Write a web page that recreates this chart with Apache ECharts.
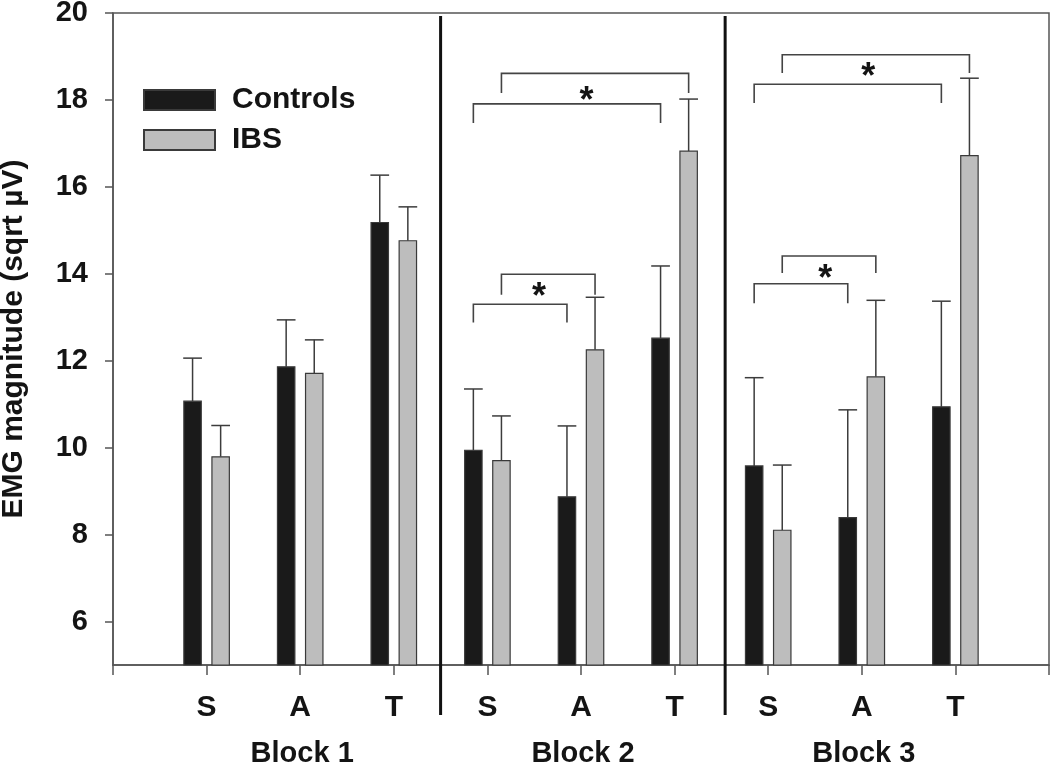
<!DOCTYPE html>
<html><head><meta charset="utf-8">
<script src="https://cdn.jsdelivr.net/npm/echarts@6/dist/echarts.min.js"></script>
<style>html,body{margin:0;padding:0;background:#fff}#c{width:1050px;height:766px}</style>
</head><body><div id="c"></div>
<script>
// ---- data ----
const categories = ['S','A','T','S','A','T','S','A','T'];
const blockLabels = ['Block 1','Block 2','Block 3'];
const blockCenters = [2, 5, 8];
const controls   = [11.07, 11.86, 15.18, 9.94, 8.87, 12.52, 9.58, 8.39, 10.94];
const controlsSE = [0.99, 1.08, 1.09, 1.41, 1.63, 1.66, 2.03, 2.48, 2.43];
const ibs        = [9.79, 11.71, 14.76, 9.70, 12.25, 16.82, 8.10, 11.63, 16.72];
const ibsSE      = [0.72, 0.77, 0.78, 1.03, 1.21, 1.20, 1.50, 1.76, 1.78];
const yTicks = [6, 8, 10, 12, 14, 16, 18, 20];
// significance brackets: [startCategory, endCategory, group (0 = Controls, 1 = IBS), bracketTop, legBottom]
const brackets = [
  [4, 5, 0, 13.30, 12.88], [4, 5, 1, 13.99, 13.52],
  [4, 6, 0, 17.91, 17.47], [4, 6, 1, 18.61, 18.16],
  [7, 8, 0, 13.77, 13.32], [7, 8, 1, 14.41, 14.02],
  [7, 9, 0, 18.36, 17.93], [7, 9, 1, 19.04, 18.62]
];
const stars = [[4.55, 13.64], [5.06, 18.16], [7.61, 14.06], [8.07, 18.71]];
const dividers = [3.5, 6.54];

// ---- layout constants ----
const BAR_OFF = 0.15, BAR_W = 0.186, CAP_W = 0.2;
const FONT = 'Arial, "Liberation Sans", sans-serif';
const INK = '#141414';

const chart = echarts.init(document.getElementById('c'), null, {renderer: 'canvas'});

function barSeries(name, vals, ses, off, fill) {
  return {
    type: 'custom', name: name,
    itemStyle: {color: fill, borderColor: '#3a3a3a', borderWidth: 1.2},
    data: vals.map((v, i) => [i + 1, v, ses[i]]),
    encode: {x: 0, y: 1},
    renderItem: function (params, api) {
      const x = api.value(0) + off, v = api.value(1), se = api.value(2);
      const a = api.coord([x - BAR_W / 2, v]);
      const b = api.coord([x + BAR_W / 2, 5]);
      const c = api.coord([x, v]);
      const t = api.coord([x, v + se]);
      const cl = api.coord([x - CAP_W / 2, v + se]);
      const cr = api.coord([x + CAP_W / 2, v + se]);
      return {type: 'group', children: [
        {type: 'line', shape: {x1: c[0], y1: c[1], x2: t[0], y2: t[1]}, style: {stroke: '#3c3c3c', lineWidth: 1.5}},
        {type: 'line', shape: {x1: cl[0], y1: t[1], x2: cr[0], y2: t[1]}, style: {stroke: '#3c3c3c', lineWidth: 1.5}},
        {type: 'rect', shape: {x: a[0], y: a[1], width: b[0] - a[0], height: b[1] - a[1]},
         style: {fill: fill, stroke: '#3a3a3a', lineWidth: 1.2}}
      ]};
    }
  };
}

const option = {
  animation: false,
  backgroundColor: '#fff',
  grid: {left: 113, right: 1, top: 13, bottom: 101, show: true, borderColor: '#555', borderWidth: 1.5,
         backgroundColor: 'transparent', containLabel: false, outerBoundsMode: 'none'},
  legend: {
    orient: 'vertical', left: 143, top: 85, padding: 0, itemWidth: 71, itemHeight: 20, itemGap: 10,
    icon: 'rect', selectedMode: false,
    textStyle: {fontSize: 30, fontWeight: 'bold', fontFamily: FONT, color: INK, padding: [0, 0, 0, 12]},
    data: ['Controls', 'IBS']
  },
  xAxis: {
    type: 'value', min: 0, max: 10, interval: 1,
    axisLine: {show: true, lineStyle: {color: '#555', width: 1.5}},
    axisTick: {show: true, inside: false, length: 10, lineStyle: {color: '#555', width: 1.5}},
    splitLine: {show: false},
    axisLabel: {
      margin: 28, fontSize: 30, fontWeight: 'bold', fontFamily: FONT, color: INK,
      formatter: function (v) { return categories[Math.round(v) - 1] || ''; }
    }
  },
  yAxis: {
    type: 'value', min: 5, max: 20,
    name: 'EMG magnitude (sqrt \u00b5V)', nameLocation: 'middle', nameGap: 84,
    nameTextStyle: {fontSize: 30, fontWeight: 'bold', fontFamily: FONT, color: INK},
    axisLine: {show: true, lineStyle: {color: '#555', width: 1.5}},
    axisTick: {show: true, inside: false, length: 8, customValues: yTicks, lineStyle: {color: '#555', width: 1.5}},
    splitLine: {show: false},
    axisLabel: {margin: 25, fontSize: 29, fontWeight: 'bold', fontFamily: FONT, color: INK, customValues: yTicks}
  },
  series: [
    barSeries('Controls', controls, controlsSE, -BAR_OFF, '#1a1a1a'),
    barSeries('IBS', ibs, ibsSE, BAR_OFF, '#bdbdbd'),
    {
      type: 'custom', silent: true, clip: false,
      data: brackets,
      encode: {x: 0, y: 3},
      renderItem: function (params, api) {
        const off = api.value(2) === 0 ? -BAR_OFF : BAR_OFF;
        const x1 = api.value(0) + off, x2 = api.value(1) + off;
        const tl = api.coord([x1, api.value(3)]), tr = api.coord([x2, api.value(3)]);
        const bl = api.coord([x1, api.value(4)]), br = api.coord([x2, api.value(4)]);
        return {type: 'polyline', shape: {points: [[bl[0], bl[1]], [tl[0], tl[1]], [tr[0], tr[1]], [br[0], br[1]]]},
                style: {stroke: '#444', lineWidth: 1.6, fill: null}};
      }
    },
    {
      type: 'custom', silent: true, clip: false,
      data: stars,
      encode: {x: 0, y: 1},
      renderItem: function (params, api) {
        const p = api.coord([api.value(0), api.value(1)]);
        return {type: 'text', style: {text: '*', x: p[0], y: p[1] + 9, align: 'center', verticalAlign: 'middle',
                font: 'bold 36px ' + FONT, fill: INK}};
      }
    },
    {
      type: 'custom', silent: true, clip: false,
      data: dividers.map(d => [d, 5]),
      encode: {x: 0, y: 1},
      renderItem: function (params, api) {
        const top = api.coord([api.value(0), 20]);
        const bot = api.coord([api.value(0), 5]);
        return {type: 'line', shape: {x1: top[0], y1: top[1] + 3, x2: bot[0], y2: bot[1] + 50},
                style: {stroke: '#111', lineWidth: 3}};
      }
    },
    {
      type: 'custom', silent: true, clip: false,
      data: blockCenters.map((c, i) => [c, 5, i]),
      encode: {x: 0, y: 1},
      renderItem: function (params, api) {
        const p = api.coord([api.value(0), 5]);
        return {type: 'text', style: {text: blockLabels[api.value(2)], x: p[0] + 2, y: p[1] + 89, align: 'center', verticalAlign: 'middle',
                font: 'bold 29px ' + FONT, fill: INK}};
      }
    }
  ]
};
chart.setOption(option);
</script>
</body></html>
